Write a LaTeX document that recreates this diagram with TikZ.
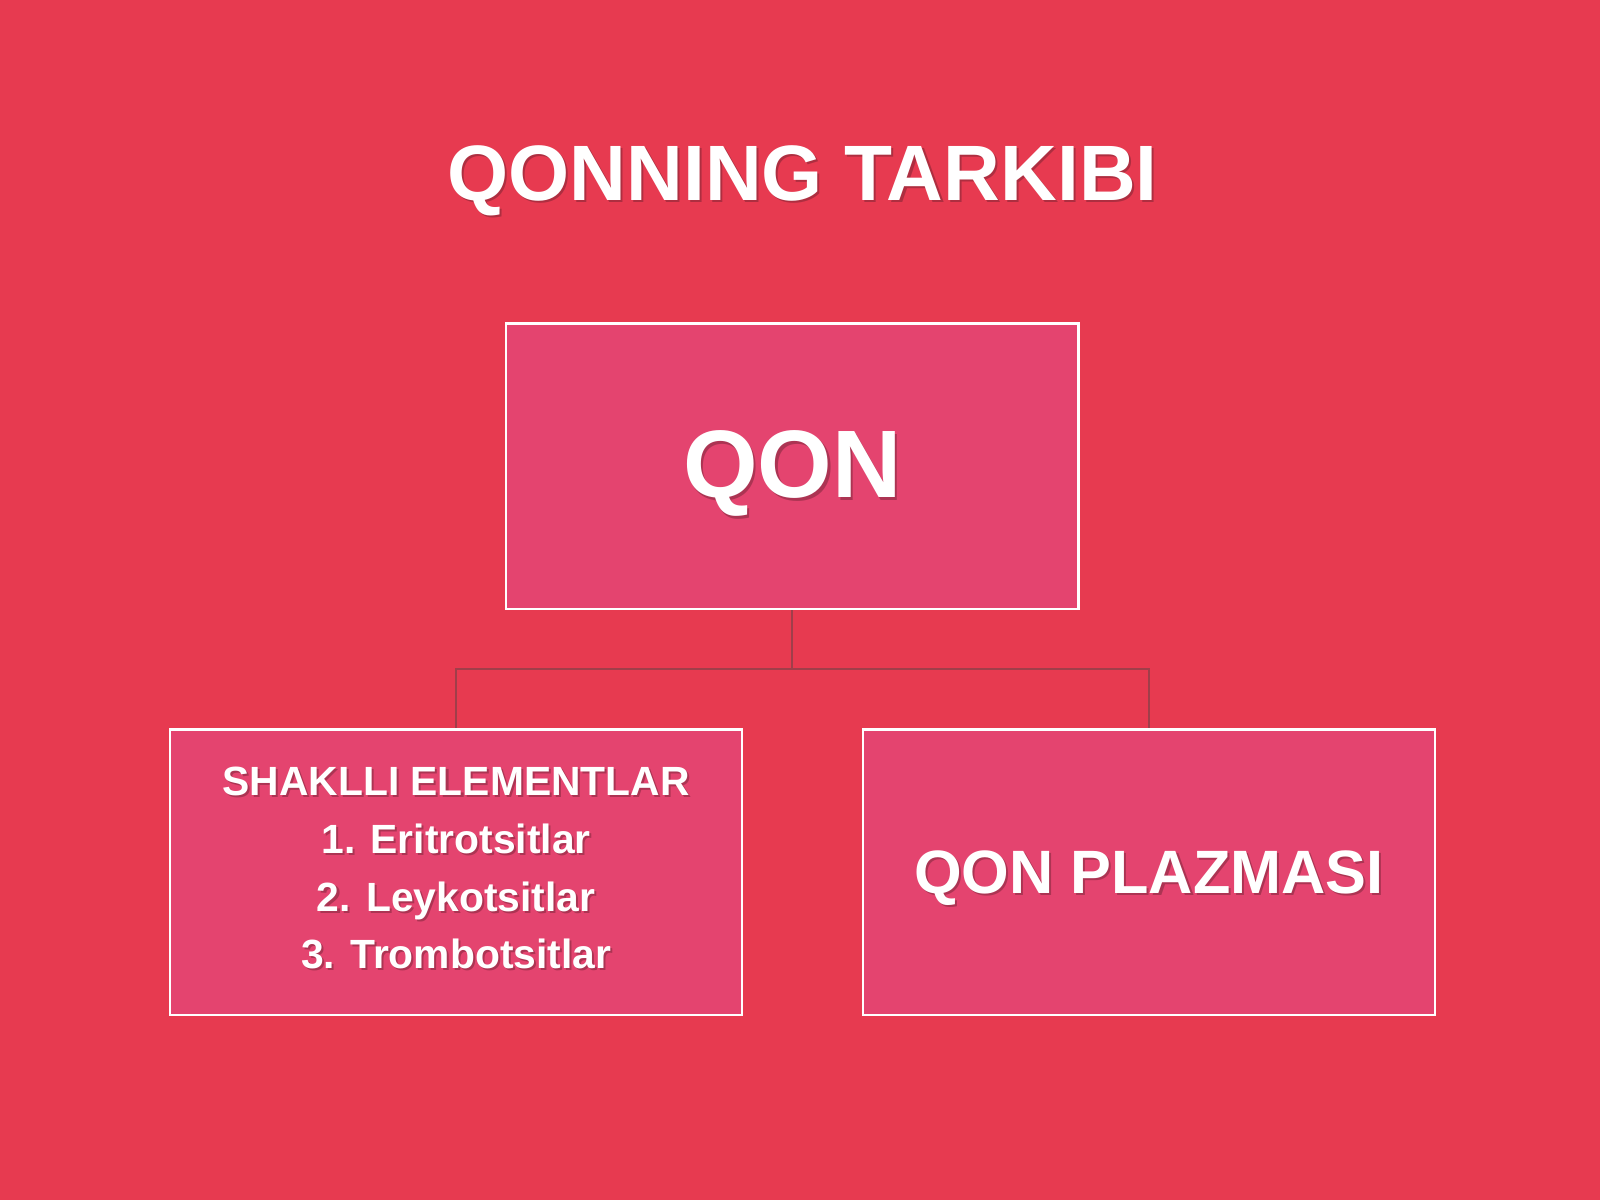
\documentclass[tikz,border=0pt]{standalone}
\usepackage{fontspec}
\setmainfont{Liberation Sans}
\definecolor{bgred}{HTML}{E73A50}
\definecolor{boxpink}{HTML}{E4446F}
\definecolor{connc}{HTML}{A03E4A}
\definecolor{shadowc}{HTML}{5A1E2A}
\begin{document}
\begin{tikzpicture}[x=1pt,y=-1pt,
  box/.style={draw=white,line width=2.2pt,fill=boxpink,minimum width=561pt,minimum height=280pt,inner sep=0pt},
  conn/.style={draw=connc,line width=1.8pt},
  txt/.style={text=white,font=\bfseries,align=center,inner sep=0pt},
  shd/.style={text=shadowc,opacity=0.4,font=\bfseries,align=center,inner sep=0pt}]
\fill[bgred] (0,0) rectangle (1568,1176);
\useasboundingbox (0,0) rectangle (1568,1176);
% title
\node[shd,font=\bfseries\fontsize{77}{80}\selectfont] (titles) at (788.5,179) {QONNING TARKIBI};
\node[txt,font=\bfseries\fontsize{77}{80}\selectfont] (title) at (786.5,177) {QONNING TARKIBI};
% boxes
\node[box] (top) at (776.5,457) {};
\node[box] (left) at (447,855) {};
\node[box] (right) at (1126,855) {};
% connectors
\coordinate (j) at (776.5,656);
\draw[conn] (top.south) -- (j) -| (left.north);
\draw[conn] (j) -| (right.north);
% labels
\node[shd,font=\bfseries\fontsize{94}{100}\selectfont] (qons) at (779,467) {QON};
\node[txt,font=\bfseries\fontsize{94}{100}\selectfont] (qon) at (776.5,464) {QON};
\node[shd,font=\bfseries\fontsize{40}{56.5}\selectfont] (lefts) at (449,853) {SHAKLLI ELEMENTLAR\\1. Eritrotsitlar\\2. Leykotsitlar\\3. Trombotsitlar};
\node[txt,font=\bfseries\fontsize{40}{56.5}\selectfont] (lefttxt) at (447,851) {SHAKLLI ELEMENTLAR\\1. Eritrotsitlar\\2. Leykotsitlar\\3. Trombotsitlar};
\node[shd,font=\bfseries\fontsize{60}{64}\selectfont] (rights) at (1128,863) {QON PLAZMASI};
\node[txt,font=\bfseries\fontsize{60}{64}\selectfont] (righttxt) at (1126,861) {QON PLAZMASI};
\end{tikzpicture}
\end{document}
